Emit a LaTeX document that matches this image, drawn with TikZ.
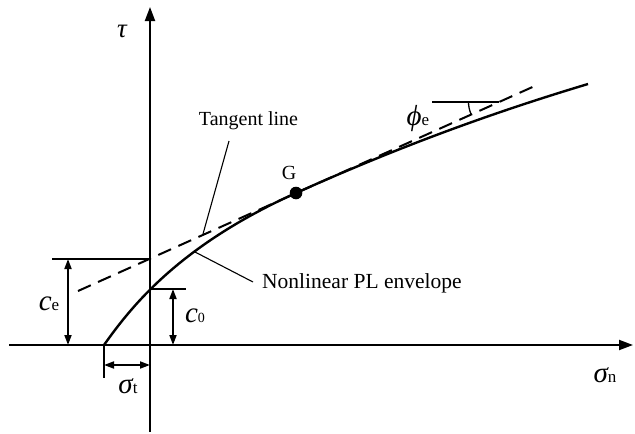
\documentclass[tikz,border=0pt]{standalone}
\usepackage{fontspec}
\setmainfont{Liberation Serif}
\usetikzlibrary{arrows.meta}
\newcommand\mysym[2]{{\fontsize{29}{29}\selectfont\itshape #1}{\fontsize{17}{17}\selectfont #2}}
\begin{document}
\begin{tikzpicture}[x=1pt,y=-1pt,
  axis/.style={line width=2pt,-{Triangle[length=14pt,width=10pt]}},
  dim/.style={line width=1.8pt,{Triangle[length=10pt,width=7pt]}-{Triangle[length=10pt,width=7pt]}},
  ext/.style={line width=1.8pt},
  curve/.style={line width=2.4pt},
  tangent/.style={line width=2pt,dash pattern=on 14pt off 8pt},
  leader/.style={line width=1.1pt},
  lbl/.style={inner sep=0pt,font=\fontsize{20}{24}\selectfont},
  sym/.style={inner sep=0pt}]
\useasboundingbox (0,0) rectangle (635,434);
% coordinates
\coordinate (ybot) at (150,432);
\coordinate (ytop) at (150,7);
\coordinate (xl) at (9,345);
\coordinate (xr) at (633,345);
\coordinate (S) at (104,345);
\coordinate (C0) at (150,289);
\coordinate (CE) at (150,259);
\coordinate (G) at (296,193);
\coordinate (E) at (588,84);
\coordinate (T1) at (78,291);
\coordinate (T2) at (537,85);
% axes
\draw[axis] (ybot) -- (ytop);
\draw[axis] (xl) -- (xr);
% tangent line
\draw[tangent] (T1) -- (T2);
% envelope
\draw[curve] (S) .. controls (129,310) and (176,246.9) .. (G)
  .. controls (396,148.1) and (488,114) .. (E);
\fill (G) circle[radius=6.3];
% c_e dimension
\coordinate (cel) at (52,259);
\coordinate (ceT) at (68,259);
\coordinate (ceB) at (68,345);
\draw[ext] (cel) -- (CE);
\draw[dim] (ceT) -- (ceB);
% c_0 dimension
\coordinate (c0r) at (186,289);
\coordinate (c0T) at (173,289);
\coordinate (c0B) at (173,345);
\draw[ext] (C0) -- (c0r);
\draw[dim] (c0T) -- (c0B);
% sigma_t dimension
\coordinate (stB) at (104,378);
\coordinate (stL) at (104,365);
\coordinate (stR) at (150,365);
\draw[ext] (S) -- (stB);
\draw[dim] (stL) -- (stR);
% phi_e
\coordinate (phl) at (432,102);
\coordinate (phv) at (498.5,102);
\draw[ext] (phl) -- (phv);
\draw[line width=1.3pt] (phv) ++(180:30) arc[start angle=180,end angle=156,radius=30];
% labels
\node[sym,anchor=base] (tau) at (122,37) {\fontsize{27}{27}\selectfont\itshape τ};
\node[sym,anchor=base] (sn) at (605,382) {\mysym{σ}{n}};
\node[sym,anchor=base] (st) at (128,393) {\mysym{σ}{t}};
\node[sym,anchor=base] (ce) at (49,310) {\mysym{c}{e}};
\node[sym,anchor=base] (c0) at (195,322) {\mysym{c}{\fontsize{14}{14}\selectfont 0}};
\node[sym,anchor=base] (phe) at (418,125) {\mysym{ϕ}{e}};
\node[lbl,anchor=base] (Gl) at (289,179) {G};
\node[lbl,anchor=base] (tl) at (248.5,125) {Tangent line};
\node[lbl,anchor=base west,font=\fontsize{21.5}{24}\selectfont] (nl) at (262,288) {Nonlinear PL envelope};
% leaders
\coordinate (tlb) at (229,141);
\coordinate (tlt) at (203,234);
\draw[leader] (tlb) -- (tlt);
\coordinate (nlc) at (195,252);
\coordinate (nle) at (253,282);
\draw[leader] (nlc) -- (nle);
\end{tikzpicture}
\end{document}
